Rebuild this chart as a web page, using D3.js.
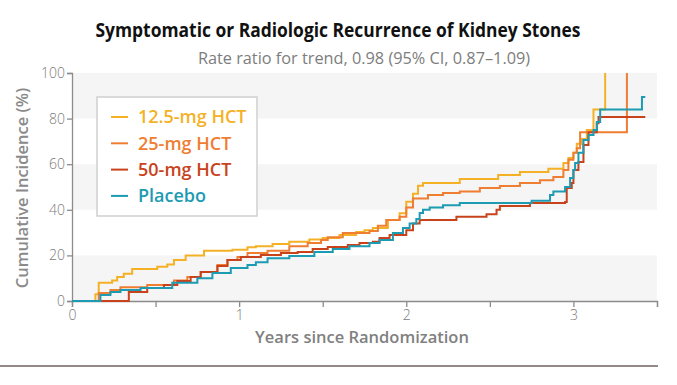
<!DOCTYPE html>
<html>
<head>
<meta charset="utf-8">
<script src="https://cdn.jsdelivr.net/npm/d3@7"></script>
<style>
body { margin: 0; background: #fff; }
svg { display: block; font-family: "Open Sans", sans-serif; }
</style>
</head>
<body>
<div id="chart"></div>
<script>
// groups, colours
var groups = ["12.5-mg HCT", "25-mg HCT", "50-mg HCT", "Placebo"];
var colors = ["#f4b126", "#ef7d32", "#c8431c", "#1d9bb2"];

// [years, cumulative incidence %] for each step
var hct12 = [[0,0],[0.14,3],[0.16,8],[0.24,9],[0.27,10.5],[0.31,12],[0.36,14],[0.51,15],[0.57,16],[0.61,18],
  [0.68,20],[0.79,22],[0.96,22.5],[1.05,23.6],[1.1,24],[1.2,25],[1.3,26],[1.42,27],[1.5,27.6],[1.6,29],
  [1.7,30.3],[1.75,31],[1.8,32],[1.89,35.5],[1.96,38.5],[2.0,43.5],[2.04,47],[2.07,50.5],[2.1,51.8],
  [2.32,53.5],[2.55,55.3],[2.68,56.6],[2.85,58],[2.94,60.5],[2.97,62.7],[3.0,65],[3.02,69],[3.05,71],
  [3.08,75],[3.12,84],[3.19,100]];
var hct25 = [[0,0],[0.16,3.5],[0.23,4.8],[0.29,6],[0.45,7],[0.61,9],[0.69,10.5],[0.77,12.7],[0.87,15.8],
  [0.93,18],[0.99,19.3],[1.05,21],[1.17,22],[1.3,24],[1.41,25.4],[1.49,26.8],[1.53,28],[1.62,29.8],
  [1.78,30.7],[1.83,33],[1.88,35.5],[1.96,37],[2.0,41],[2.04,45],[2.13,46.5],[2.22,47.4],[2.32,48],
  [2.44,49.6],[2.56,50.4],[2.68,51.8],[2.8,53],[2.88,54.4],[2.94,57.5],[2.97,62],[3.0,65],[3.02,67],
  [3.04,74],[3.32,100]];
var hct50 = [[0,0],[0.34,4],[0.45,5.7],[0.55,7],[0.63,8.8],[0.71,10.5],[0.77,12.7],[0.87,15.4],[0.93,18],
  [1.01,19.3],[1.13,20.2],[1.25,21],[1.35,21.5],[1.44,22.8],[1.53,23.7],[1.65,24.6],[1.72,25.4],[1.8,26],
  [1.84,27.6],[1.9,29],[2.0,31],[2.04,34],[2.08,35.5],[2.3,37],[2.48,38],[2.54,40],[2.56,41.7],[2.74,43],
  [2.95,43.4],[2.96,49.6],[2.99,51.8],[3.0,57.5],[3.03,61],[3.06,68.4],[3.09,74],[3.14,78],[3.15,80.7],
  [3.43,80.7]];
var placebo = [[0,0],[0.17,2.6],[0.23,4],[0.29,4.8],[0.41,5.7],[0.6,8],[0.75,10],[0.84,12.3],[0.95,14.5],
  [1.05,15.8],[1.1,17],[1.17,18.8],[1.3,19.7],[1.45,21.5],[1.56,22.8],[1.66,24],[1.78,25.4],[1.84,26.8],
  [1.92,29.8],[1.98,32],[2.02,34],[2.06,36],[2.08,38.6],[2.1,40],[2.14,41],[2.22,42],[2.32,43],[2.75,44],
  [2.86,46.5],[2.88,48],[2.95,50],[2.98,54],[3.0,57.5],[3.01,60.5],[3.03,65],[3.06,70.6],[3.09,72.8],
  [3.12,75],[3.14,78.5],[3.16,84],[3.41,84],[3.41,89.5],[3.43,89.5]];
var curves = [hct12, hct25, hct50, placebo];

var yTicks = [0, 20, 40, 60, 80, 100];
var xTicks = [0, 0.5, 1, 1.5, 2, 2.5, 3, 3.5];
var bands = [[0, 20], [40, 60], [80, 100]];

var W = 677, H = 385;
var svg = d3.select("#chart").append("svg").attr("width", W).attr("height", H);

var x = d3.scaleLinear().domain([0, 3.5]).range([72, 657]);
var y = d3.scaleLinear().domain([0, 100]).range([301, 73]);

svg.selectAll("rect.band").data(bands).enter().append("rect")
  .attr("class", "band")
  .attr("x", x(0)).attr("width", x(3.5) - x(0))
  .attr("y", function (d) { return y(d[1]); })
  .attr("height", function (d) { return y(d[0]) - y(d[1]); })
  .attr("fill", "#f5f5f5");

// axes
var xAxis = d3.axisBottom(x).tickValues(xTicks).tickSize(6).tickPadding(3)
  .tickFormat(function (d) { return d % 1 === 0 && d < 3.5 ? d : ""; });
var gx = svg.append("g").attr("transform", "translate(0," + y(0) + ")").call(xAxis);
var yAxis = d3.axisLeft(y).tickValues(yTicks).tickSize(5).tickPadding(2);
var gy = svg.append("g").attr("transform", "translate(" + x(0) + ",0)").call(yAxis);
[gx, gy].forEach(function (g) {
  g.select(".domain").attr("stroke", "#8c8c8c").attr("stroke-width", 1.3);
  g.selectAll(".tick line").attr("stroke", "#8c8c8c").attr("stroke-width", 1.3);
  g.selectAll(".tick text").attr("fill", "#7a7a7a")
    .style("font-family", "'Open Sans', sans-serif").style("font-size", "14px").style("font-weight", 300);
});

var line = d3.line().curve(d3.curveStepAfter)
  .x(function (d) { return x(d[0]); })
  .y(function (d) { return y(d[1]); });

svg.selectAll("path.curve").data(curves).enter().append("path")
  .attr("class", "curve")
  .attr("d", line)
  .attr("fill", "none")
  .attr("stroke", function (d, i) { return colors[i]; })
  .attr("stroke-width", 2);

// legend
var lg = svg.append("g");
lg.append("rect").attr("x", 97).attr("y", 97).attr("width", 160).attr("height", 119)
  .attr("fill", "#fff").attr("stroke", "#cfcfcf").attr("stroke-width", 1.5);
var items = lg.selectAll("g.item").data(groups).enter().append("g")
  .attr("class", "item")
  .attr("transform", function (d, i) { return "translate(111," + (117 + i * 26.3) + ")"; });
items.append("line").attr("x1", 0).attr("x2", 17)
  .attr("stroke", function (d, i) { return colors[i]; }).attr("stroke-width", 2);
items.append("text").attr("x", 27).attr("dy", "0.35em")
  .attr("fill", function (d, i) { return colors[i]; })
  .style("font-size", "18px").style("font-weight", 600)
  .text(function (d) { return d; });

// titles
svg.append("text").attr("x", 338).attr("y", 37).attr("text-anchor", "middle")
  .attr("textLength", 485).attr("lengthAdjust", "spacingAndGlyphs")
  .style("font-size", "20px").style("font-weight", 700).attr("fill", "#111")
  .text("Symptomatic or Radiologic Recurrence of Kidney Stones");
svg.append("text").attr("x", 364).attr("y", 64).attr("text-anchor", "middle")
  .style("font-size", "16.3px").attr("fill", "#7d7d7d")
  .text("Rate ratio for trend, 0.98 (95% CI, 0.87\u20131.09)");

svg.append("text").attr("x", 362).attr("y", 343).attr("text-anchor", "middle")
  .style("font-size", "16.5px").style("font-weight", 600).attr("fill", "#808080")
  .text("Years since Randomization");
svg.append("text").attr("transform", "translate(28,188) rotate(-90)").attr("text-anchor", "middle")
  .style("font-size", "16.5px").style("font-weight", 600).attr("fill", "#8a8a8a")
  .text("Cumulative Incidence (%)");

svg.append("line").attr("x1", 0).attr("x2", 658).attr("y1", 366).attr("y2", 366)
  .attr("stroke", "#6f6262").attr("stroke-width", 1.5);
</script>
</body>
</html>
